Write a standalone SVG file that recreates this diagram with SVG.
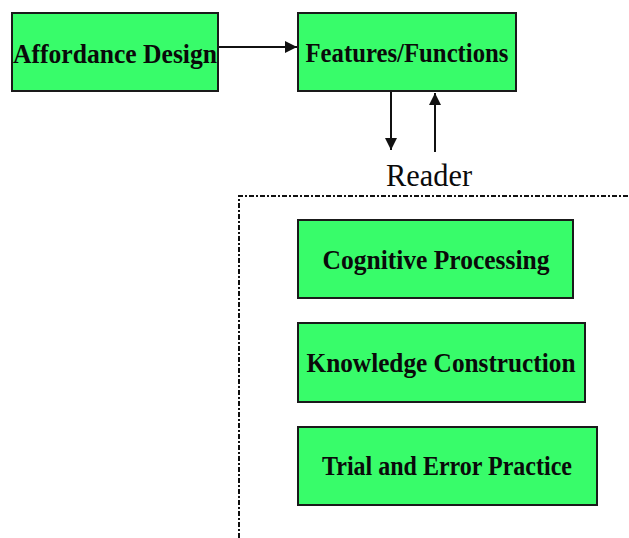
<svg xmlns="http://www.w3.org/2000/svg" width="629" height="538" viewBox="0 0 629 538">
<defs>
<style>
.box{fill:#38FC6A;stroke:#1a1a1a;stroke-width:2}
.lbl{font-family:"Liberation Serif","Times New Roman",serif;font-weight:bold;font-size:27px;fill:#0a0a0a;text-anchor:middle}
.conn{stroke:#111;stroke-width:2;fill:none}
</style>
<marker id="ah" viewBox="0 0 10 10" refX="10" refY="5" markerWidth="7" markerHeight="6" markerUnits="strokeWidth" orient="auto">
<path d="M0,0 L10,5 L0,10 z" fill="#111"/>
</marker>
</defs>
<rect width="629" height="538" fill="#fff"/>
<g id="reader-frame">
<path d="M239,538 L239,196 L629,196" fill="none" stroke="#111" stroke-width="2" stroke-dasharray="5 2 2 2"/>
<text x="429" y="186" font-family="Liberation Serif, Times New Roman, serif" font-size="32" text-anchor="middle" fill="#0a0a0a" textLength="86" lengthAdjust="spacingAndGlyphs">Reader</text>
</g>
<g id="connectors">
<line class="conn" x1="218" y1="47" x2="297" y2="47" marker-end="url(#ah)"/>
<line class="conn" x1="391" y1="92" x2="391" y2="150" marker-end="url(#ah)"/>
<line class="conn" x1="435" y1="152" x2="435" y2="93" marker-end="url(#ah)"/>
</g>
<g id="affordance-design">
<rect class="box" x="12" y="13" width="206" height="78"/>
<text class="lbl" x="115" y="63" textLength="204" lengthAdjust="spacingAndGlyphs">Affordance Design</text>
</g>
<g id="features-functions">
<rect class="box" x="298" y="13" width="218" height="78"/>
<text class="lbl" x="407" y="62" textLength="203" lengthAdjust="spacingAndGlyphs">Features/Functions</text>
</g>
<g id="cognitive-processing">
<rect class="box" x="298" y="220" width="275" height="78"/>
<text class="lbl" x="436" y="269" textLength="227" lengthAdjust="spacingAndGlyphs">Cognitive Processing</text>
</g>
<g id="knowledge-construction">
<rect class="box" x="298" y="323" width="287" height="79"/>
<text class="lbl" x="441" y="372" textLength="269" lengthAdjust="spacingAndGlyphs">Knowledge Construction</text>
</g>
<g id="trial-and-error">
<rect class="box" x="298" y="427" width="299" height="78"/>
<text class="lbl" x="447" y="475" textLength="250" lengthAdjust="spacingAndGlyphs">Trial and Error Practice</text>
</g>
</svg>
